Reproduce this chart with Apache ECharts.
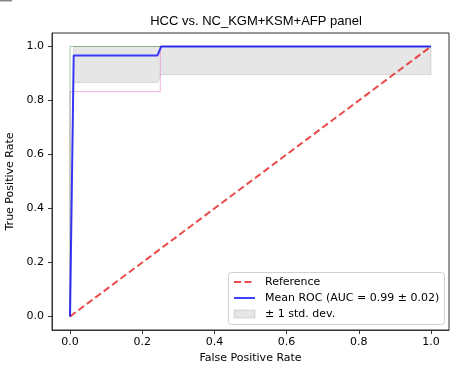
<!DOCTYPE html>
<html>
<head>
<meta charset="utf-8">
<style>html,body{margin:0;padding:0;background:#fff;}#c{width:450px;height:365px;}</style>
<script src="https://cdn.jsdelivr.net/npm/echarts@6/dist/echarts.min.js"></script>
</head>
<body>
<div id="c"></div>
<script>
// ---- data ----
var titleText = 'HCC vs. NC_KGM+KSM+AFP panel';
var tickValues = [0, 0.2, 0.4, 0.6, 0.8, 1.0];
var referenceX = [0, 1];
var referenceY = [0, 1];
var fold1Fpr = [0, 0, 1];
var fold1Tpr = [0, 1, 1];
var fold2Fpr = [0, 0, 0.25, 0.25, 1];
var fold2Tpr = [0, 0.833, 0.833, 1, 1];
var meanFpr = [0, 0.0101, 0.2424, 0.2525, 1.0];
var meanTpr = [0, 0.9667, 0.9667, 1.0, 1.0];
var bandUpper = [0.1, 1.0, 1.0, 1.0, 1.0];
var bandLower = [0, 0.867, 0.867, 0.896, 0.896];
var legendLabels = ['Reference', 'Mean ROC (AUC = 0.99 \u00b1 0.02)', '\u00b1 1 std. dev.'];

function pairs(xs, ys) { return xs.map(function (x, i) { return [x, ys[i]]; }); }

var chart = echarts.init(document.getElementById('c'), null, { renderer: 'canvas' });
var font = 'DejaVu Sans';

var option = {
  backgroundColor: '#ffffff',
  animation: false,
  title: {
    text: titleText, left: 251, top: 10, textAlign: 'center',
    textStyle: { fontFamily: 'Liberation Sans', fontSize: 13, fontWeight: 'normal', color: '#000' }
  },
  grid: { left: 52, right: 1, top: 33, bottom: 35, containLabel: false, outerBoundsMode: 'none',
          show: true, borderColor: '#333', borderWidth: 1, backgroundColor: 'transparent' },
  xAxis: {
    type: 'value', min: -0.05, max: 1.05,
    name: 'False Positive Rate', nameLocation: 'middle', nameGap: 19,
    nameTextStyle: { fontFamily: font, fontSize: 11, color: '#000' },
    axisLine: { show: true, onZero: false, lineStyle: { color: '#333', width: 1 } },
    axisTick: { show: true, length: 4, customValues: tickValues, lineStyle: { color: '#333' } },
    axisLabel: { customValues: tickValues, fontFamily: font, fontSize: 11, color: '#000', margin: 7,
                 formatter: function (v) { return v.toFixed(1); } },
    splitLine: { show: false }
  },
  yAxis: {
    type: 'value', min: -0.05, max: 1.05,
    name: 'True Positive Rate', nameLocation: 'middle', nameGap: 29, nameRotate: 90,
    nameTextStyle: { fontFamily: font, fontSize: 11, color: '#000' },
    axisLine: { show: true, onZero: false, lineStyle: { color: '#333', width: 1 } },
    axisTick: { show: true, length: 4, customValues: tickValues, lineStyle: { color: '#333' } },
    axisLabel: { customValues: tickValues, fontFamily: font, fontSize: 11, color: '#000', margin: 8,
                 formatter: function (v) { return v.toFixed(1); } },
    splitLine: { show: false }
  },
  series: [
    {
      type: 'custom', name: 'band', silent: true, z: 1,
      data: [0],
      renderItem: function (params, api) {
        var pts = [];
        for (var i = 0; i < meanFpr.length; i++) pts.push(api.coord([meanFpr[i], bandUpper[i]]));
        for (var j = meanFpr.length - 1; j >= 0; j--) pts.push(api.coord([meanFpr[j], bandLower[j]]));
        return { type: 'polygon', shape: { points: pts },
                 style: { fill: 'rgba(128,128,128,0.2)', stroke: 'rgba(128,128,128,0.25)', lineWidth: 1 } };
      }
    },
    { type: 'line', name: 'fold2', data: pairs(fold2Fpr, fold2Tpr), symbol: 'none', z: 2,
      lineStyle: { color: 'rgba(227,119,194,0.55)', width: 1 } },
    { type: 'line', name: 'fold1', data: pairs(fold1Fpr, fold1Tpr), symbol: 'none', z: 2,
      lineStyle: { color: 'rgba(44,140,44,0.45)', width: 1 } },
    { type: 'line', name: legendLabels[0], data: pairs(referenceX, referenceY), symbol: 'none', z: 3,
      lineStyle: { color: 'rgba(230,30,30,0.8)', width: 2, type: [7, 3.5] } },
    { type: 'line', name: legendLabels[1], data: pairs(meanFpr, meanTpr), symbol: 'none', z: 4,
      lineStyle: { color: 'rgba(0,0,255,0.75)', width: 2 } }
  ],
  graphic: [
    { type: 'rect', left: 0, top: 0, shape: { width: 12, height: 1.5 }, style: { fill: '#888' } },
    { type: 'rect', shape: { x: 228.5, y: 272.5, width: 216, height: 52, r: 3 },
      style: { fill: 'rgba(255,255,255,0.8)', stroke: '#d0d0d0', lineWidth: 1 }, z: 100 },
    { type: 'line', shape: { x1: 234, y1: 282, x2: 255, y2: 282 },
      style: { stroke: 'rgba(230,30,30,0.8)', lineWidth: 2, lineDash: [7, 3.5] }, z: 101 },
    { type: 'text', x: 265, y: 282, style: { text: legendLabels[0], font: '11px "DejaVu Sans"', fill: '#000', verticalAlign: 'middle' }, z: 101 },
    { type: 'line', shape: { x1: 234, y1: 298, x2: 255, y2: 298 },
      style: { stroke: 'rgba(0,0,255,0.75)', lineWidth: 2 }, z: 101 },
    { type: 'text', x: 265, y: 298, style: { text: legendLabels[1], font: '11px "DejaVu Sans"', fill: '#000', verticalAlign: 'middle' }, z: 101 },
    { type: 'rect', shape: { x: 234, y: 310, width: 21, height: 8 },
      style: { fill: 'rgba(128,128,128,0.2)', stroke: 'rgba(128,128,128,0.25)', lineWidth: 1 }, z: 101 },
    { type: 'text', x: 265, y: 314, style: { text: legendLabels[2], font: '11px "DejaVu Sans"', fill: '#000', verticalAlign: 'middle' }, z: 101 }
  ]
};
chart.setOption(option);
</script>
</body>
</html>
